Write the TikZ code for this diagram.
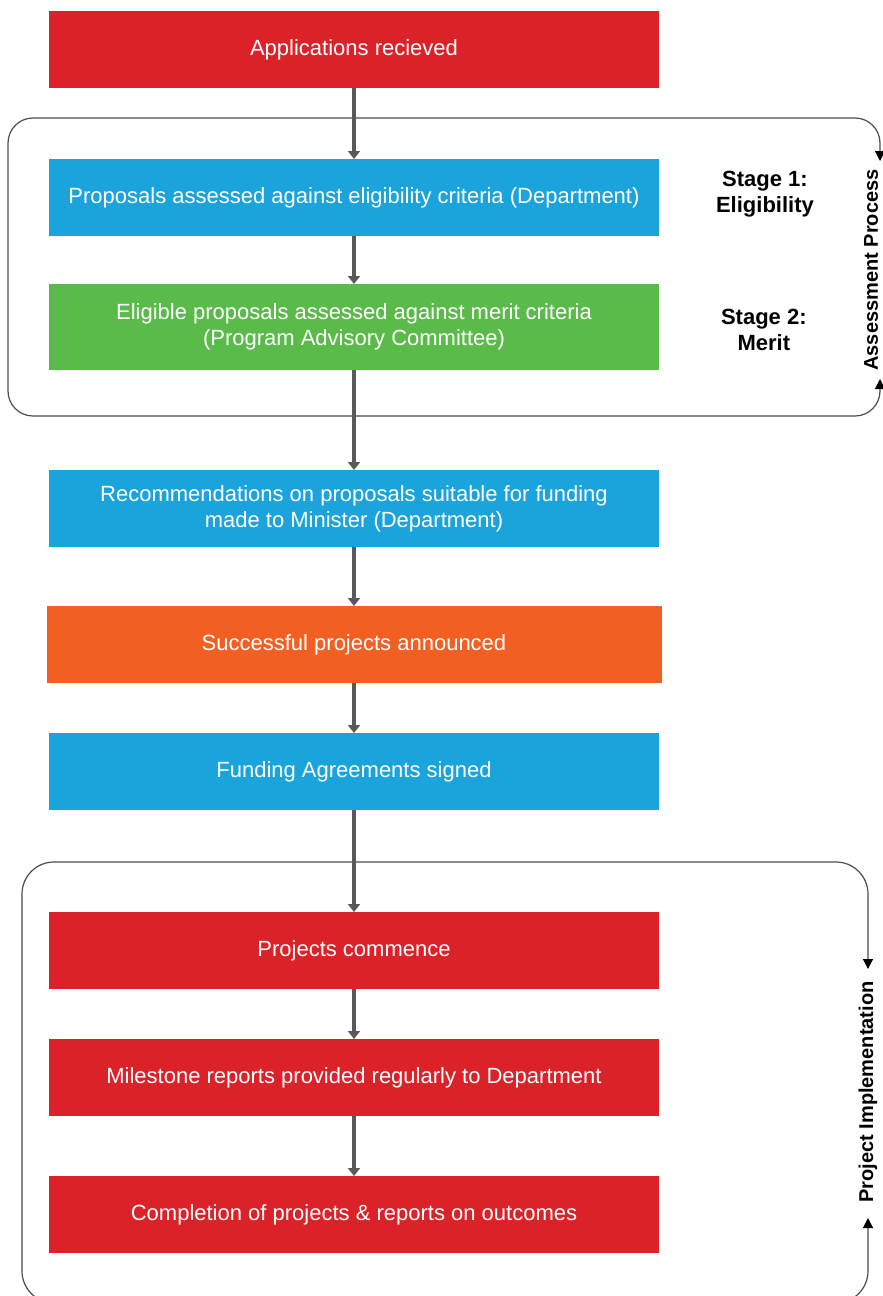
\documentclass[tikz,border=0pt]{standalone}
\usepackage{fontspec}
\setmainfont{Liberation Sans}
\usetikzlibrary{arrows.meta,positioning}
\definecolor{boxred}{RGB}{220,34,41}
\definecolor{boxblue}{RGB}{27,163,220}
\definecolor{boxgreen}{RGB}{91,187,74}
\definecolor{boxorange}{RGB}{241,96,34}
\definecolor{flowgray}{RGB}{89,89,89}

\begin{document}
\begin{tikzpicture}[x=0.5pt,y=-0.5pt,
    box/.style={minimum width=305pt,minimum height=38.5pt,inner sep=2pt,outer sep=0pt,align=center,text=white,font=\fontsize{11}{13}\selectfont},
    stage/.style={align=center,font=\fontsize{11}{13}\selectfont\bfseries},
    side/.style={rotate=90,font=\fontsize{10}{12}\selectfont\bfseries},
    flow/.style={draw=flowgray,line width=2pt,-{Triangle[width=6pt,length=4pt]}},
    frame/.style={draw=black!70,line width=0.6pt,{Triangle[width=5pt,length=5pt,color=black]}-{Triangle[width=5pt,length=5pt,color=black]}}]
    \useasboundingbox (0,0) rectangle (883,1296);

    % brackets round the stages
    \coordinate (asT) at (880,161);
    \coordinate (asB) at (880,379);
    \draw[frame,rounded corners=12.5pt] (asB) -- (880,416) -- (8,416) -- (8,118) -- (880,118) -- (asT);
    \node[side] (asmt) at (871,270) {Assessment Process};

    \coordinate (piT) at (868,969);
    \coordinate (piB) at (868,1218);
    \draw[frame,rounded corners=16pt] (piB) -- (868,1303) -- (22,1303) -- (22,862) -- (868,862) -- (piT);
    \node[side] (impl) at (868,1092) {Project Implementation};

    % steps
    \node[box,fill=boxred] (app) at (354,49.5) {Applications recieved};
    \node[box,fill=boxblue,below=35.5pt of app] (prop) {Proposals assessed against eligibility criteria (Department)};
    \node[box,fill=boxgreen,minimum height=43pt,below=24pt of prop] (elig) {Eligible proposals assessed against merit criteria\\(Program Advisory Committee)};
    \node[box,fill=boxblue,below=50pt of elig] (rec) {Recommendations on proposals suitable for funding\\made to Minister (Department)};
    \node[box,fill=boxorange,minimum width=307.5pt,below=29.5pt of rec] (succ) {Successful projects announced};
    \node[box,fill=boxblue,below=25pt of succ] (fund) {Funding Agreements signed};
    \node[box,fill=boxred,below=51pt of fund] (comm) {Projects commence};
    \node[box,fill=boxred,below=25pt of comm] (mile) {Milestone reports provided regularly to Department};
    \node[box,fill=boxred,below=30pt of mile] (done) {Completion of projects \& reports on outcomes};

    \node[stage,right=25pt of prop,yshift=1.5pt] (st1) {Stage 1:\\Eligibility};
    \node[stage,right=27.5pt of elig,yshift=-1.5pt] (st2) {Stage 2:\\Merit};

    \draw[flow] (app)--(prop);
    \draw[flow] (prop)--(elig);
    \draw[flow] (elig)--(rec);
    \draw[flow] (rec)--(succ);
    \draw[flow] (succ)--(fund);
    \draw[flow] (fund)--(comm);
    \draw[flow] (comm)--(mile);
    \draw[flow] (mile)--(done);
\end{tikzpicture}
\end{document}
